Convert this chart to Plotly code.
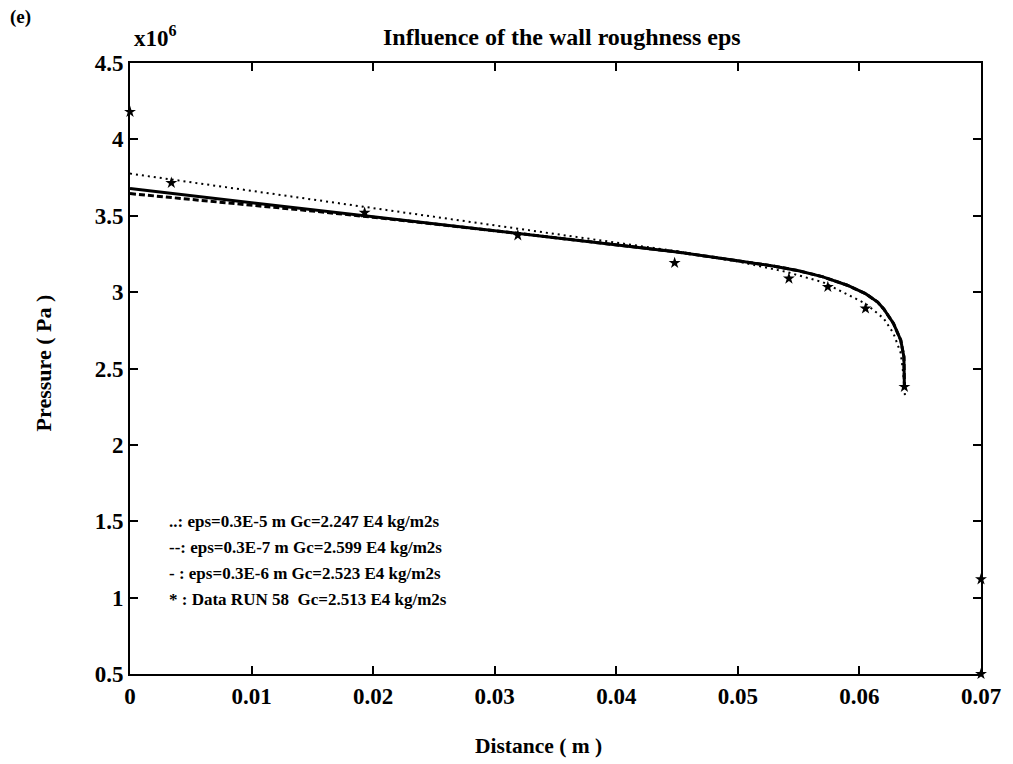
import plotly.graph_objects as go

# ---- data ----
x_solid = [0.0, 0.005, 0.01, 0.015, 0.02, 0.025, 0.03, 0.035, 0.04, 0.045, 0.05, 0.053,
           0.055, 0.057, 0.059, 0.0605, 0.0615, 0.062, 0.0628, 0.0634, 0.06366, 0.06369, 0.0637]
p_solid = [3.678, 3.632, 3.586, 3.540, 3.494, 3.448, 3.402, 3.356, 3.310, 3.263, 3.205, 3.170,
           3.140, 3.100, 3.045, 2.990, 2.935, 2.890, 2.795, 2.685, 2.576, 2.480, 2.380]

x_dash = [0.0, 0.005, 0.01, 0.015, 0.02, 0.025, 0.03, 0.035, 0.04, 0.045, 0.05, 0.053,
          0.055, 0.057, 0.059, 0.0605, 0.0615, 0.062, 0.0628, 0.0634, 0.06366, 0.06369, 0.0637]
p_dash = [3.645, 3.608, 3.570, 3.531, 3.490, 3.447, 3.402, 3.356, 3.310, 3.263, 3.205, 3.170,
          3.140, 3.100, 3.045, 2.990, 2.935, 2.890, 2.795, 2.685, 2.576, 2.480, 2.380]

x_dot = [0.0, 0.005, 0.01, 0.015, 0.02, 0.025, 0.03, 0.035, 0.04, 0.045, 0.05, 0.054,
         0.057, 0.0605, 0.062, 0.0628, 0.0634, 0.0636, 0.06375]
p_dot = [3.776, 3.720, 3.663, 3.607, 3.550, 3.493, 3.437, 3.380, 3.324, 3.267, 3.200, 3.132,
         3.065, 2.925, 2.827, 2.730, 2.600, 2.470, 2.316]

x_data = [0.0, 0.0034, 0.0193, 0.0319, 0.0448, 0.0542, 0.0574, 0.0605, 0.0637, 0.07, 0.07]
p_data = [4.18, 3.715, 3.52, 3.372, 3.191, 3.089, 3.034, 2.893, 2.38, 1.12, 0.5]

x_ticks = [0, 0.01, 0.02, 0.03, 0.04, 0.05, 0.06, 0.07]
x_ticklabels = ["0", "0.01", "0.02", "0.03", "0.04", "0.05", "0.06", "0.07"]
y_ticks = [0.5, 1, 1.5, 2, 2.5, 3, 3.5, 4, 4.5]
y_ticklabels = ["0.5", "1", "1.5", "2", "2.5", "3", "3.5", "4", "4.5"]

legend_lines = [
    "..: eps=0.3E-5 m Gc=2.247 E4 kg/m2s",
    "--: eps=0.3E-7 m Gc=2.599 E4 kg/m2s",
    "- : eps=0.3E-6 m Gc=2.523 E4 kg/m2s",
    "* : Data RUN 58&nbsp; Gc=2.513 E4 kg/m2s",
]

FONT = "Times New Roman, Liberation Serif, Times, serif"

fig = go.Figure()
fig.add_trace(go.Scatter(x=x_dot, y=p_dot, mode="lines",
                         line=dict(color="black", width=2, dash="2px,4px"), showlegend=False))
fig.add_trace(go.Scatter(x=x_dash, y=p_dash, mode="lines",
                         line=dict(color="black", width=3, dash="6px,3px"), showlegend=False))
fig.add_trace(go.Scatter(x=x_solid, y=p_solid, mode="lines",
                         line=dict(color="black", width=3), showlegend=False))
fig.add_trace(go.Scatter(x=x_data, y=p_data, mode="markers", cliponaxis=False,
                         marker=dict(symbol="star", size=9, color="black"), showlegend=False))

W, H = 1013, 764
L, R, T, B = 130, 28, 63, 90
pw, ph = W - L - R, H - T - B


def px(xp):
    return (xp - L) / pw


def py(yp):
    return (H - B - yp) / ph


axis_common = dict(showline=True, linecolor="black", linewidth=2, mirror="ticks",
                   ticks="inside", ticklen=8, tickwidth=1.5, tickcolor="black",
                   showgrid=False, zeroline=False,
                   tickfont=dict(family=FONT, size=23, color="black"))

fig.update_xaxes(range=[0, 0.07], tickvals=x_ticks, ticktext=["<b>%s</b>" % t for t in x_ticklabels],
                 **axis_common)
fig.update_yaxes(range=[0.5, 4.5], tickvals=y_ticks, ticktext=["<b>%s</b>" % t for t in y_ticklabels],
                 **axis_common)


def ann(text, x, y, size, xanchor="center", angle=0):
    return dict(text="<b>%s</b>" % text, x=px(x), y=py(y), textangle=angle,
                xref="paper", yref="paper", showarrow=False, xanchor=xanchor, yanchor="middle",
                font=dict(family=FONT, size=size, color="black"))


annots = [
    ann("Influence of the wall roughness eps", 564, 37, 24),
    ann("x10<sup>6</sup>", 132, 37, 23, xanchor="left"),
    ann("(e)", 7, 17, 19, xanchor="left"),
    ann("Distance ( m )", 540, 746, 21.5),
    ann("Pressure ( Pa )", 43, 363, 22, angle=-90),
]
for i, t in enumerate(legend_lines):
    annots.append(ann(t, 167, 521 + i * 26.3, 17, xanchor="left"))

fig.update_layout(width=W, height=H, margin=dict(l=L, r=R, t=T, b=B),
                  paper_bgcolor="white", plot_bgcolor="white", annotations=annots,
                  showlegend=False)

fig.write_html("out.html")
